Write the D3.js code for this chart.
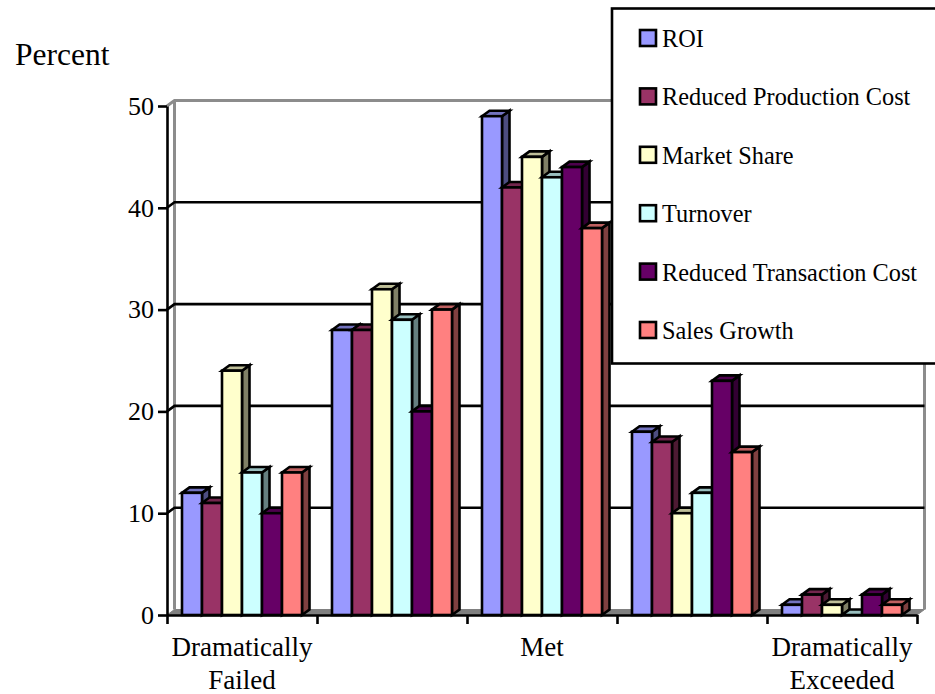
<!DOCTYPE html>
<html>
<head>
<meta charset="utf-8">
<style>
html, body { margin: 0; padding: 0; background: #fff; }
svg { display: block; }
text { font-family: "Liberation Serif", serif; fill: #000; }
</style>
<script src="https://cdn.jsdelivr.net/npm/d3@7/dist/d3.min.js"></script>
</head>
<body>
<script>
const categories = ["Dramatically Failed", "Slightly Failed", "Met", "Slightly Exceeded", "Dramatically Exceeded"];
const categoryLabels = [["Dramatically", "Failed"], [], ["Met"], [], ["Dramatically", "Exceeded"]];
const seriesNames = ["ROI", "Reduced Production Cost", "Market Share", "Turnover", "Reduced Transaction Cost", "Sales Growth"];
const seriesColors = ["#9999ff", "#993366", "#ffffcc", "#ccffff", "#660066", "#ff8080"];
const roi = [12, 28, 49, 18, 1];
const productionCost = [11, 28, 42, 17, 2];
const marketShare = [24, 32, 45, 10, 1];
const turnover = [14, 29, 43, 12, 0];
const transactionCost = [10, 20, 44, 23, 2];
const salesGrowth = [14, 30, 38, 16, 1];
const seriesValues = [roi, productionCost, marketShare, turnover, transactionCost, salesGrowth];
const yTicks = [0, 10, 20, 30, 40, 50];

const width = 935, height = 694;
const plotLeft = 167, plotRight = 917, plotBottom = 615, plotTop = 106;
const depthX = 7.5, depthY = 5.5;
const lineWidth = 2.6;

const svg = d3.select("body").append("svg").attr("width", width).attr("height", height);

const y = d3.scaleLinear().domain([0, 50]).range([plotBottom, plotTop]);
const x0 = d3.scaleBand().domain(categories).range([plotLeft, plotRight]);
const x1 = d3.scaleBand().domain(seriesNames).range([15, x0.bandwidth() - 15]);
const edges = d3.scaleLinear().domain([0, categories.length]).range([plotLeft, plotRight]);

// Chart box: floor, back wall and side walls
svg.append("polygon")
  .attr("points", [[plotLeft, plotBottom], [plotLeft + depthX, plotBottom - depthY], [plotRight + depthX, plotBottom - depthY], [plotRight, plotBottom]].join(" "))
  .attr("fill", "#808080").attr("stroke", "#808080");
const walls = svg.append("g").attr("fill", "none").attr("stroke", "#8c8c8c").attr("stroke-width", 3);
walls.append("path").attr("d", d3.line()([
  [plotLeft, plotTop], [plotLeft + depthX, plotTop - depthY], [plotRight + depthX, plotTop - depthY], [plotRight + depthX, plotBottom - depthY]
]));
walls.append("path").attr("d", d3.line()([[plotLeft + depthX, plotTop - depthY], [plotLeft + depthX, plotBottom - depthY]]));

// Gridlines on the back wall, joined to the axis by a short diagonal
const grid = svg.append("g").attr("stroke", "#000").attr("stroke-width", lineWidth).attr("fill", "none");
yTicks.filter(t => t > 0 && t < 50).forEach(t => {
  grid.append("path").attr("d", d3.line()([
    [plotLeft, y(t)], [plotLeft + depthX, y(t) - depthY], [plotRight + depthX, y(t) - depthY]
  ]));
});

// Three-faced bars, drawn left to right so each front hides its neighbour's side
const shade = (c, k) => {
  const r = d3.rgb(c);
  return d3.rgb(r.r * k, r.g * k, r.b * k).formatHex();
};
const bars = svg.append("g").attr("stroke", "#000").attr("stroke-width", lineWidth).attr("stroke-linejoin", "miter");
categories.forEach((cat, ci) => {
  seriesNames.forEach((name, si) => {
    const v = seriesValues[si][ci];
    const xa = x0(cat) + x1(name), xb = xa + x1.bandwidth();
    const yt = y(v), yb = y(0);
    const g = bars.append("g");
    g.append("polygon")
      .attr("points", [[xb, yt], [xb + depthX, yt - depthY], [xb + depthX, yb - depthY], [xb, yb]].join(" "))
      .attr("fill", shade(seriesColors[si], 0.5));
    g.append("polygon")
      .attr("points", [[xa, yt], [xa + depthX, yt - depthY], [xb + depthX, yt - depthY], [xb, yt]].join(" "))
      .attr("fill", shade(seriesColors[si], 0.75));
    if (v > 0) {
      g.append("rect")
        .attr("x", xa).attr("y", yt).attr("width", xb - xa).attr("height", yb - yt)
        .attr("fill", seriesColors[si]);
    }
  });
});

// Axes
const yAxis = d3.axisLeft(y).tickValues(yTicks).tickSize(9).tickPadding(4).tickSizeOuter(0);
const yG = svg.append("g").attr("transform", `translate(${plotLeft},0)`).call(yAxis);
yG.selectAll("text").style("font-family", '"Liberation Serif", serif').style("font-size", "26px");
yG.selectAll("line, path").attr("stroke", "#000").attr("stroke-width", lineWidth);

const xAxis = d3.axisBottom(edges).ticks(categories.length).tickSize(9).tickSizeOuter(0).tickFormat("");
const xG = svg.append("g").attr("transform", `translate(0,${plotBottom})`).call(xAxis);
xG.selectAll("line, path").attr("stroke", "#000").attr("stroke-width", lineWidth);

const xLabels = svg.append("g").attr("text-anchor", "middle").style("font-size", "27px");
categories.forEach((cat, ci) => {
  categoryLabels[ci].forEach((line, li) => {
    xLabels.append("text")
      .attr("x", x0(cat) + x0.bandwidth() / 2)
      .attr("y", 656 + li * 33)
      .text(line);
  });
});

svg.append("text").attr("x", 15).attr("y", 64.5).style("font-size", "31.5px").text("Percent");

// Legend box runs off the right edge of the page
svg.append("rect")
  .attr("x", 612).attr("y", 8.5).attr("width", 340).attr("height", 355)
  .attr("fill", "#fff").attr("stroke", "#000").attr("stroke-width", lineWidth);
const legendY = d3.scalePoint().domain(seriesNames).range([38, 330]);
const legend = svg.append("g");
seriesNames.forEach((name, si) => {
  legend.append("rect")
    .attr("x", 640).attr("y", legendY(name) - 8).attr("width", 16).attr("height", 16)
    .attr("fill", seriesColors[si]).attr("stroke", "#000").attr("stroke-width", lineWidth);
  legend.append("text")
    .attr("x", 662).attr("y", legendY(name) + 9)
    .style("font-size", "24.3px").text(name);
});
</script>
</body>
</html>
